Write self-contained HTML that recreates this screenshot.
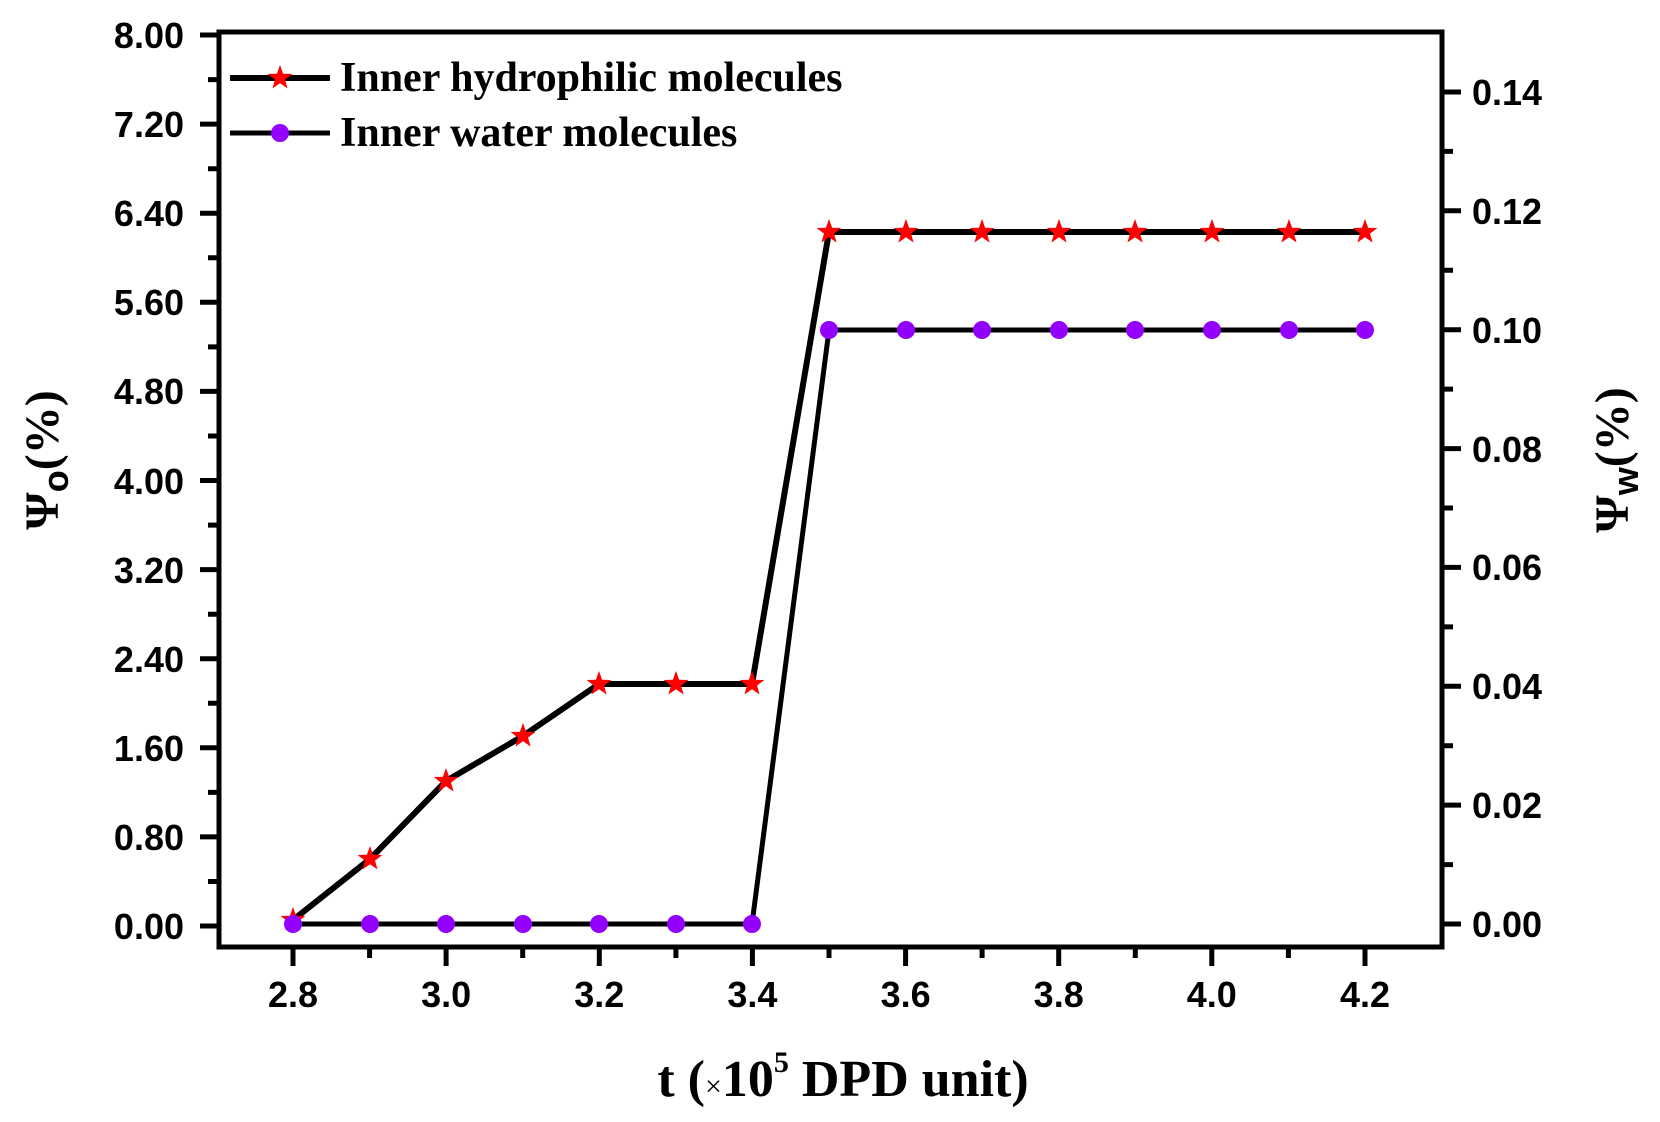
<!DOCTYPE html>
<html><head><meta charset="utf-8"><style>
html,body{margin:0;padding:0;background:#fff;}
svg{display:block;}
.tl{font-family:"Liberation Sans",sans-serif;font-weight:bold;font-size:36px;fill:#000;}
.ti{font-family:"Liberation Serif",serif;font-weight:bold;fill:#000;}
</style></head><body>
<svg width="1660" height="1122" viewBox="0 0 1660 1122" xmlns="http://www.w3.org/2000/svg">
<defs>
<polygon id="st" points="0,-13 3.1,-4.2 12.4,-4 5,1.6 7.6,10.5 0,5.2 -7.6,10.5 -5,1.6 -12.4,-4 -3.1,-4.2" fill="#ff0000"/>
<circle id="ci" r="9" fill="#9400ff"/>
</defs>
<rect x="219" y="32" width="1223" height="915" fill="none" stroke="#000" stroke-width="5"/>
<path stroke="#000" stroke-width="5" fill="none" d="
M200,926H219 M208,881.5H219 M200,836.9H219 M208,792.4H219 M200,747.8H219 M208,703.3H219 M200,658.7H219 M208,614.2H219 M200,569.6H219 M208,525.1H219 M200,480.5H219 M208,436H219 M200,391.4H219 M208,346.9H219 M200,302.3H219 M208,257.8H219 M200,213.2H219 M208,168.7H219 M200,124.1H219 M208,79.6H219 M200,35H219
M1442,924H1461 M1442,864.6H1453 M1442,805.1H1461 M1442,745.7H1453 M1442,686.3H1461 M1442,626.9H1453 M1442,567.4H1461 M1442,508H1453 M1442,448.6H1461 M1442,389.1H1453 M1442,329.7H1461 M1442,270.3H1453 M1442,210.8H1461 M1442,151.4H1453 M1442,92H1461
M293,947V966 M369.6,947V958 M446.1,947V966 M522.7,947V958 M599.3,947V966 M675.9,947V958 M752.4,947V966 M829,947V958 M905.6,947V966 M982.1,947V958 M1058.7,947V966 M1135.3,947V958 M1211.8,947V966 M1288.4,947V958 M1365,947V966"/>
<g class="tl" text-anchor="end">
<text x="184" y="939">0.00</text><text x="184" y="850">0.80</text><text x="184" y="761">1.60</text><text x="184" y="672">2.40</text><text x="184" y="583">3.20</text><text x="184" y="494">4.00</text><text x="184" y="404">4.80</text><text x="184" y="315">5.60</text><text x="184" y="226">6.40</text><text x="184" y="137">7.20</text><text x="184" y="48">8.00</text>
</g>
<g class="tl" text-anchor="start">
<text x="1472" y="937">0.00</text><text x="1472" y="818">0.02</text><text x="1472" y="699">0.04</text><text x="1472" y="580">0.06</text><text x="1472" y="462">0.08</text><text x="1472" y="343">0.10</text><text x="1472" y="224">0.12</text><text x="1472" y="105">0.14</text>
</g>
<g class="tl" text-anchor="middle">
<text x="293" y="1007">2.8</text><text x="446.1" y="1007">3.0</text><text x="599.3" y="1007">3.2</text><text x="752.4" y="1007">3.4</text><text x="905.6" y="1007">3.6</text><text x="1058.7" y="1007">3.8</text><text x="1211.8" y="1007">4.0</text><text x="1365" y="1007">4.2</text>
</g>
<polyline fill="none" stroke="#000" stroke-width="6" points="293,920 370,859 446,781 523,736 599,684 676,684 752,684 829,232 906,232 982,232 1059,232 1135,232 1212,232 1289,232 1365,232"/>
<polyline fill="none" stroke="#000" stroke-width="5" points="293,924 370,924 446,924 523,924 599,924 676,924 752,924 829,330 906,330 982,330 1059,330 1135,330 1212,330 1289,330 1365,330"/>
<use href="#st" x="293" y="920"/><use href="#st" x="370" y="859"/><use href="#st" x="446" y="781"/><use href="#st" x="523" y="736"/><use href="#st" x="599" y="684"/><use href="#st" x="676" y="684"/><use href="#st" x="752" y="684"/><use href="#st" x="829" y="232"/><use href="#st" x="906" y="232"/><use href="#st" x="982" y="232"/><use href="#st" x="1059" y="232"/><use href="#st" x="1135" y="232"/><use href="#st" x="1212" y="232"/><use href="#st" x="1289" y="232"/><use href="#st" x="1365" y="232"/>
<use href="#ci" x="293" y="924"/><use href="#ci" x="370" y="924"/><use href="#ci" x="446" y="924"/><use href="#ci" x="523" y="924"/><use href="#ci" x="599" y="924"/><use href="#ci" x="676" y="924"/><use href="#ci" x="752" y="924"/><use href="#ci" x="829" y="330"/><use href="#ci" x="906" y="330"/><use href="#ci" x="982" y="330"/><use href="#ci" x="1059" y="330"/><use href="#ci" x="1135" y="330"/><use href="#ci" x="1212" y="330"/><use href="#ci" x="1289" y="330"/><use href="#ci" x="1365" y="330"/>
<line x1="230" y1="78" x2="330" y2="78" stroke="#000" stroke-width="6"/>
<use href="#st" x="280" y="78"/>
<line x1="230" y1="133" x2="330" y2="133" stroke="#000" stroke-width="5"/>
<use href="#ci" x="280" y="133"/>
<text class="ti" x="340" y="91" font-size="42">Inner hydrophilic molecules</text>
<text class="ti" x="340" y="146" font-size="42">Inner water molecules</text>
<text class="ti" x="843" y="1096" font-size="52" text-anchor="middle">t (<tspan font-size="30" font-weight="normal">×</tspan>10<tspan font-size="30" dy="-24">5</tspan><tspan dy="24"> DPD unit)</tspan></text>
<text class="ti" transform="translate(58,460) rotate(-90)" font-size="48" text-anchor="middle">Ψ<tspan font-size="36" font-family="Liberation Sans" dy="10">o</tspan><tspan dy="-10">(%)</tspan></text>
<text class="ti" transform="translate(1628,460) rotate(-90)" font-size="48" text-anchor="middle">Ψ<tspan font-size="36" font-family="Liberation Sans" dy="10">w</tspan><tspan dy="-10">(%)</tspan></text>
</svg>
</body></html>
